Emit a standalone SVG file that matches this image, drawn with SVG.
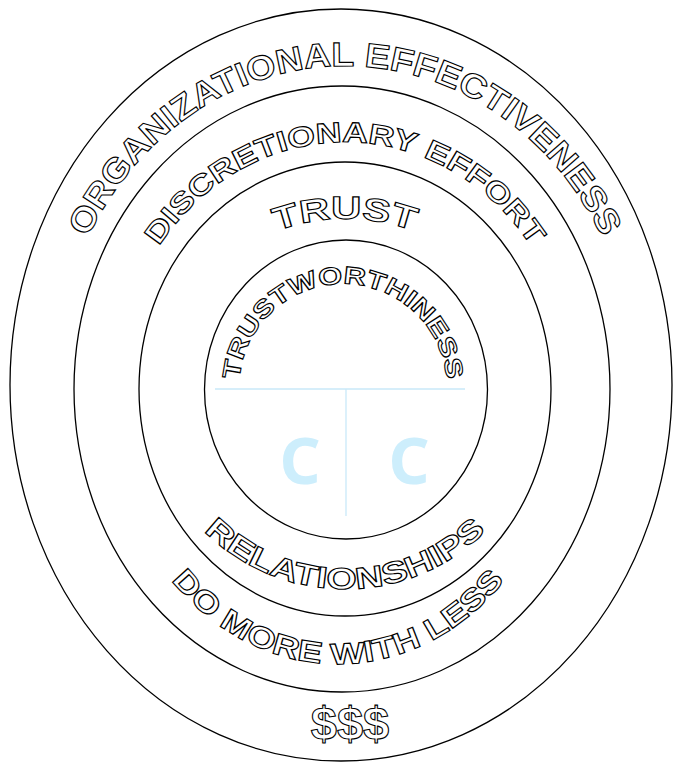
<svg xmlns="http://www.w3.org/2000/svg" width="675" height="762" viewBox="0 0 675 762">
<style>
.ring{fill:none;stroke:#000;stroke-width:1.3}
.out{font-family:"Liberation Sans",Arial,sans-serif;font-weight:bold;fill:#fff;stroke:#000;stroke-width:1.1;text-anchor:middle}
.money{font-family:"Liberation Sans",Arial,sans-serif;font-weight:bold;fill:#fff;stroke:#000;stroke-width:1.1;text-anchor:middle}
.div{stroke:#c9e9f9;stroke-width:1.3}
.cc{font-family:"Noto Sans","Open Sans",sans-serif;font-weight:bold;fill:#cdeefc;font-size:64px;text-anchor:middle}
</style>
<defs>
<path id="p-org" d="M71.5 498.1 A291 322 0 1 1 618.5 498.1"/>
<path id="p-disc" d="M130.7 473.5 A228 247 0 1 1 559.3 473.5"/>
<path id="p-trust" d="M166.5 461.9 A190 181 0 1 1 523.5 461.9"/>
<path id="p-tw" d="M245.3 423.6 A104 104 0 1 1 440.7 423.6"/>
<path id="p-rel" d="M157.1 320.6 A200 200 0 1 0 532.9 320.6"/>
<path id="p-do" d="M120 295 A232 275 0 1 0 556 295"/>
</defs>
<rect width="675" height="762" fill="#fff"/>
<g id="ring-organizational">
<ellipse class="ring" cx="341" cy="385" rx="331" ry="376"/>
<text class="out" font-size="34"><textPath href="#p-org" startOffset="50%" textLength="652" lengthAdjust="spacingAndGlyphs">ORGANIZATIONAL EFFECTIVENESS</textPath></text>
</g>
<g id="ring-discretionary">
<ellipse class="ring" cx="342" cy="389" rx="268" ry="303"/>
<text class="out" font-size="28.5"><textPath href="#p-disc" startOffset="50%" textLength="444" lengthAdjust="spacingAndGlyphs">DISCRETIONARY EFFORT</textPath></text>
</g>
<g id="ring-trust">
<ellipse class="ring" cx="345" cy="389" rx="206" ry="227"/>
<text class="out" font-size="32"><textPath href="#p-trust" startOffset="50%" textLength="140" lengthAdjust="spacingAndGlyphs">TRUST</textPath></text>
</g>
<g id="core-trustworthiness">
<ellipse class="ring" cx="346" cy="389.5" rx="141.5" ry="149.5"/>
<line class="div" x1="215" y1="389" x2="465" y2="389"/>
<line class="div" x1="346" y1="389" x2="346" y2="516"/>
<text class="out" font-size="24.5"><textPath href="#p-tw" startOffset="50%" textLength="310" lengthAdjust="spacingAndGlyphs">TRUSTWORTHINESS</textPath></text>
<text class="cc" x="300" y="484">C</text>
<text class="cc" x="409" y="484">C</text>
</g>
<g id="label-relationships">
<text class="out" font-size="30"><textPath href="#p-rel" startOffset="50%" textLength="313" lengthAdjust="spacingAndGlyphs">RELATIONSHIPS</textPath></text>
</g>
<g id="label-do-more">
<text class="out" font-size="30"><textPath href="#p-do" startOffset="50%" textLength="386" lengthAdjust="spacingAndGlyphs">DO MORE WITH LESS</textPath></text>
</g>
<g id="label-money">
<text class="money" font-size="47" x="350" y="740">$$$</text>
</g>
</svg>
